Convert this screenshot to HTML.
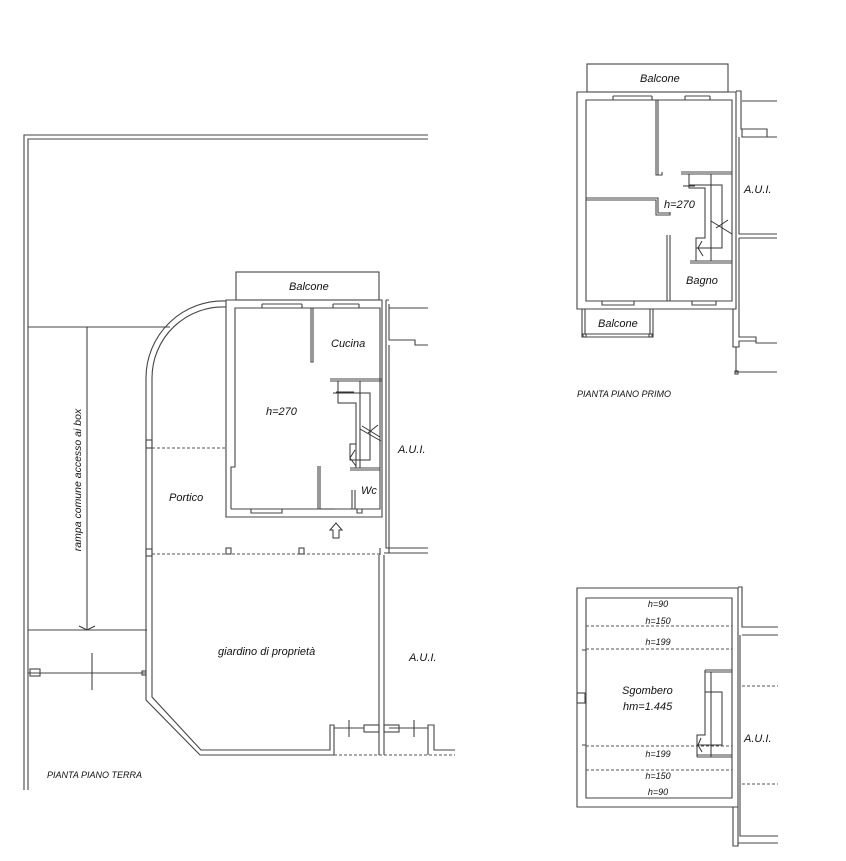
<!DOCTYPE html>
<html><head><meta charset="utf-8"><style>
html,body{margin:0;padding:0;background:#fff}
svg{display:block}
text{font-family:"Liberation Sans",sans-serif;font-style:italic;fill:#111}
.w{fill:none;stroke:#444;stroke-width:1.1}
.d{fill:none;stroke:#555;stroke-width:0.9;stroke-dasharray:3,2}
.t{fill:none;stroke:#333;stroke-width:1}
</style></head><body>
<svg width="846" height="861" viewBox="0 0 846 861" xmlns="http://www.w3.org/2000/svg">
<!-- ===== GROUND FLOOR ===== -->
<path class="w" d="M24 790 V135 H428 M28 790 V139 H428"/>
<path class="w" d="M28 327 H170"/>
<path class="t" d="M87 327 V630 M79 626 L87 630 L95 626"/>
<path class="w" d="M28 630 H147"/>
<path class="w" d="M28 673 H146"/>
<rect x="30" y="669" width="10" height="7" class="w"/>
<rect x="142" y="671" width="4" height="4" class="w"/>
<path class="t" d="M92 653 V690"/>
<text transform="translate(81,480) rotate(-90)" font-size="10.5" text-anchor="middle">rampa comune accesso ai box</text>

<path class="w" d="M226 301 A77 77 0 0 0 146 378 V700 L200 755 H334 V725 H330 V750 H201 L152 697 V378 A71 71 0 0 1 226 307"/>
<rect x="146" y="440" width="6" height="8" class="w"/>
<rect x="146" y="549" width="6" height="7" class="w"/>
<path class="d" d="M152 448 H226 M152 554 H380"/>
<rect x="226" y="548" width="5" height="6" class="w"/>
<rect x="299" y="548" width="5" height="6" class="w"/>
<path class="d" d="M334 755 H455"/>
<path class="w" d="M379 555 V755 M384 555 V755"/>
<path class="w" d="M428 755 V725 H434 V750 H455"/>
<path class="w" d="M334 728 H364 M389 728 H428"/>
<rect x="364" y="725" width="15" height="7" class="w"/>
<rect x="384" y="725" width="15" height="7" class="w"/>
<path class="t" d="M349 720 V737 M414 720 V737"/>

<!-- house -->
<rect x="236" y="272" width="143" height="28" class="w"/>
<path class="w" d="M226 300 H382 V517 H226 Z"/>
<path class="w" d="M231 509 V467 H235 V308 H380 V509 H231"/>
<path class="w" d="M262 304 H302 M262 304 V308 M302 304 V308 M333 304 H359 M333 304 V308 M359 304 V308"/>
<path class="w" d="M251 509 V513 H282 V509 M357 509 V513 H362 V509"/>
<path class="w" d="M311 308 V362 H313 V308"/>
<path class="w" d="M318 466 V509 M320 466 V509"/>
<path class="w" d="M350 468 H380 M350 470 H380 M352 490 V509 M355 490 V509"/>
<path class="w" d="M320 509 H335" stroke="#fff" stroke-width="2"/>
<!-- stairs -->
<path class="w" d="M330 379 H382 M330 381 H382"/>
<path class="t" d="M338 381 V403 H356 V468 M360 381 V468 M333 393 H370 V460 H350 V444 H356"/>
<path class="t" d="M336 392 H354"/>
<path class="t" d="M360 429 L381 441 M362 426 L380 437 M368 433 L378 425 M355 450 L350 458 L356 466"/>
<path class="t" d="M333 538 V530 H330 L336 523 L342 530 H339 V538 Z"/>
<!-- AUI walls -->
<path class="w" d="M386 300 V548 H428 M389 304 V340 H415 V345 H428 M389 345 V553 H428 M389 308 H428 M386 300 H389"/>
<path class="w" d="M380 555 V548 M384 553 H389"/>

<text x="289" y="290" font-size="11">Balcone</text>
<text x="331" y="347" font-size="11">Cucina</text>
<text x="266" y="415" font-size="11">h=270</text>
<text x="398" y="453" font-size="11">A.U.I.</text>
<text x="169" y="501" font-size="11">Portico</text>
<text x="361" y="494" font-size="11">Wc</text>
<text x="218" y="655" font-size="11">giardino di proprietà</text>
<text x="409" y="661" font-size="11">A.U.I.</text>
<text x="47" y="778" font-size="9" font-style="normal">PIANTA  PIANO  TERRA</text>

<!-- ===== FIRST FLOOR ===== -->
<rect x="587" y="64" width="141" height="28" class="w"/>
<path class="w" d="M577 92 H736 V309 H577 Z"/>
<path class="w" d="M586 100 H732 V301 H586 Z"/>
<path class="w" d="M613 96 H652 M613 96 V100 M652 96 V100 M685 96 H710 M685 96 V100 M710 96 V100 M602 301 V305 H634 V301 M692 301 V305 H716 V301"/>
<path class="w" d="M656 100 V175 H662 V172 M658 100 V175"/>
<path class="w" d="M586 198 H658 V213 H670 M586 200 H656 V215 H670 V212"/>
<path class="w" d="M667 235 V301 M670 235 V301"/>
<path class="w" d="M690 261 H732 M690 263 H732"/>
<path class="w" d="M681 172 H732 M681 174 H732"/>
<path class="t" d="M689 174 V188 H705 V238 H696 V261 M711 174 V261 M689 185 H722 V248 H696"/>
<path class="t" d="M683 186 H695"/>
<path class="t" d="M711 221 L732 234 M716 228 L728 220 M702 241 L698 248 L703 256"/>
<path class="w" d="M582 309 V337 H653 V309 M585 309 V334 H650 V309"/>
<rect x="583" y="334" width="3" height="3" class="w"/>
<rect x="649" y="334" width="3" height="3" class="w"/>
<path class="w" d="M736 91 H741 V129 H767 V137 H777 M742 101 H777 M742 129 V137 H767 M739 137 V234 H777 M739 238 H777 M739 238 V337 H756 V343 H777 M733 309 V347 H736 V372 H777 M736 347 H739 V341 H756 V337"/>
<rect x="735" y="371" width="3" height="3" class="w"/>

<text x="640" y="82" font-size="11">Balcone</text>
<text x="664" y="208" font-size="11">h=270</text>
<text x="744" y="193" font-size="11">A.U.I.</text>
<text x="686" y="284" font-size="11">Bagno</text>
<text x="598" y="327" font-size="11">Balcone</text>
<text x="577" y="397" font-size="9" font-style="normal">PIANTA  PIANO  PRIMO</text>

<!-- ===== ATTIC ===== -->
<path class="w" d="M577 588 H738 V807 H577 Z"/>
<path class="w" d="M586 650 V598 H732 V798 H586 V745 M586 650 V745 M582 650 H586 M582 745 H586"/>
<rect x="577" y="693" width="8" height="10" class="w"/>
<path class="d" d="M586 626 H732 M586 649 H732 M586 746 H732 M586 770 H732 M742 686 H778 M742 784 H778"/>
<path class="w" d="M738 587 H742 V627 H778 M740 635 V836 H778 M742 635 H778 M733 807 V846 H738 V843 H778 M738 807 V843"/>
<path class="w" d="M705 670 H732 M705 672 H732 M697 755 H732 M697 757 H732"/>
<path class="t" d="M705 670 V735 H697 V757 M711 672 V757 M705 692 H722 V745 H697"/>
<path class="t" d="M701 738 L698 745 L702 752"/>

<g font-size="9" fill="#333" text-anchor="middle">
<text x="658" y="607">h=90</text>
<text x="658" y="624">h=150</text>
<text x="658" y="645">h=199</text>
<text x="658" y="757">h=199</text>
<text x="658" y="779">h=150</text>
<text x="658" y="795">h=90</text>
</g>
<text x="622" y="694" font-size="11">Sgombero</text>
<text x="623" y="710" font-size="11">hm=1.445</text>
<text x="744" y="742" font-size="11">A.U.I.</text>
</svg>
</body></html>
